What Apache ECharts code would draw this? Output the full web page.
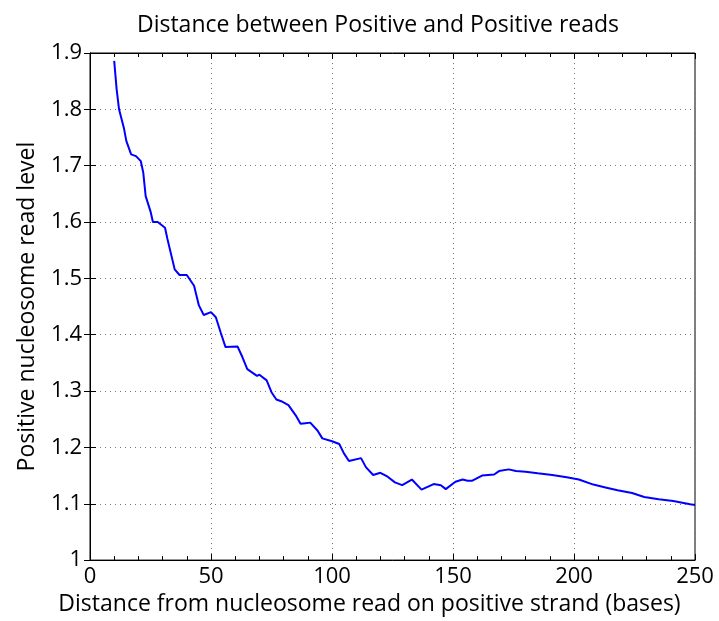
<!DOCTYPE html>
<html>
<head>
<meta charset="utf-8">
<script src="https://cdn.jsdelivr.net/npm/echarts@6/dist/echarts.min.js"></script>
<style>
html,body{margin:0;padding:0;background:#fff;}
#chart{width:719px;height:621px;}
</style>
</head>
<body>
<div id="chart"></div>
<script>
const titleText = 'Distance between Positive and Positive reads';
const xAxisName = 'Distance from nucleosome read on positive strand (bases)';
const yAxisName = 'Positive nucleosome read level';

const distances = [10, 11, 12, 14, 15, 17, 19, 21, 22, 23, 25, 26, 28, 31, 32, 35, 37, 40, 43, 45, 47, 50, 52, 54, 56, 61, 63, 65, 69, 70, 73, 75, 77, 79, 82, 85, 87, 89, 91, 94, 96, 100, 103, 105, 107, 112, 114, 117, 120, 123, 126, 129, 133, 137, 142, 145, 147, 151, 154, 156, 158, 162, 167, 169, 173, 176, 180, 185, 191, 197, 202, 208, 213, 218, 224, 229, 235, 241, 248, 250];
const levels = [1.886, 1.836, 1.800, 1.767, 1.744, 1.720, 1.717, 1.708, 1.688, 1.646, 1.619, 1.600, 1.600, 1.590, 1.570, 1.516, 1.506, 1.506, 1.487, 1.452, 1.435, 1.440, 1.431, 1.404, 1.378, 1.379, 1.360, 1.339, 1.327, 1.329, 1.319, 1.298, 1.285, 1.282, 1.275, 1.257, 1.242, 1.243, 1.244, 1.230, 1.216, 1.211, 1.206, 1.189, 1.176, 1.181, 1.165, 1.151, 1.155, 1.148, 1.138, 1.133, 1.143, 1.125, 1.135, 1.133, 1.126, 1.139, 1.143, 1.141, 1.141, 1.150, 1.152, 1.158, 1.161, 1.158, 1.157, 1.154, 1.151, 1.147, 1.143, 1.134, 1.129, 1.124, 1.119, 1.112, 1.108, 1.105, 1.099, 1.098];

const xMin = 0, xMax = 250, xStep = 50;
const yMin = 1, yMax = 1.9, yStep = 0.1;

const FONT = '"Open Sans", sans-serif';
const chart = echarts.init(document.getElementById('chart'), null, {renderer: 'canvas'});

const seriesData = distances.map((d, i) => [d, levels[i]]);

const baseX = {
  type: 'value', min: xMin, max: xMax, interval: xStep,
  axisLine: {show: true, lineStyle: {color: '#000', width: 1}},
  axisTick: {show: true, inside: true, length: 6, lineStyle: {color: '#000'}},
  minorTick: {show: true, splitNumber: 5, length: 4, lineStyle: {color: '#000'}},
  minorSplitLine: {show: false}
};
const baseY = {
  type: 'value', min: yMin, max: yMax, interval: yStep,
  axisLine: {show: true, lineStyle: {color: '#000', width: 1}},
  axisTick: {show: true, inside: true, length: 6, lineStyle: {color: '#000'}}
};

chart.setOption({
  animation: false,
  backgroundColor: '#fff',
  title: {
    text: titleText, left: 373, top: 9, textAlign: 'center',
    textStyle: {fontFamily: FONT, fontSize: 23, fontWeight: 'normal', color: '#000'}
  },
  grid: {left: 90, right: 24, top: 53, bottom: 59, show: true, borderColor: '#000', borderWidth: 1, containLabel: false},
  xAxis: [
    Object.assign({}, baseX, {
      position: 'bottom',
      name: xAxisName, nameLocation: 'middle', nameGap: 27,
      nameTextStyle: {fontFamily: FONT, fontSize: 23, color: '#000', padding: [0, 46, 0, 0]},
      axisLabel: {show: true, margin: 6, fontFamily: FONT, fontSize: 22, color: '#000'},
      splitLine: {show: true, lineStyle: {color: '#777', type: [1, 4], width: 1}}
    }),
    Object.assign({}, baseX, {
      position: 'top',
      axisLabel: {show: false},
      splitLine: {show: false}
    })
  ],
  yAxis: [
    Object.assign({}, baseY, {
      position: 'left',
      name: yAxisName, nameLocation: 'middle', nameGap: 51,
      nameTextStyle: {fontFamily: FONT, fontSize: 23, color: '#000'},
      axisLabel: {show: true, margin: 8, fontFamily: FONT, fontSize: 22, color: '#000',
        formatter: v => (Math.abs(v - Math.round(v)) < 1e-9 ? String(Math.round(v)) : v.toFixed(1))},
      splitLine: {show: true, lineStyle: {color: '#777', type: [1, 4], width: 1}}
    }),
    Object.assign({}, baseY, {
      position: 'right',
      axisLabel: {show: false},
      splitLine: {show: false}
    })
  ],
  series: [{
    type: 'line',
    xAxisIndex: 0, yAxisIndex: 0,
    data: seriesData,
    showSymbol: false,
    smooth: false,
    lineStyle: {color: '#0000ff', width: 2},
    itemStyle: {color: '#0000ff'}
  }]
});
</script>
</body>
</html>
